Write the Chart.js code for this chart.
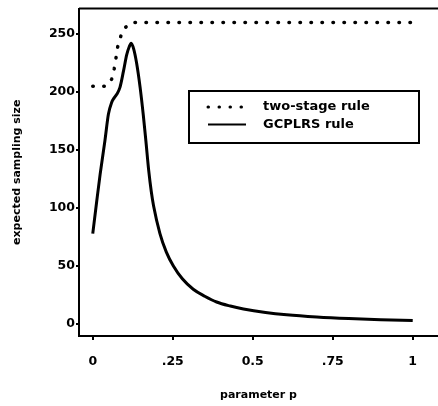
<!DOCTYPE html>
<html lang="en">
<head>
<meta charset="UTF-8">
<title>Expected sampling size</title>
<script src="https://cdn.jsdelivr.net/npm/chart.js"></script>
<style>
  body { margin: 0; background: #fff; }
  canvas { display: block; }
</style>
</head>
<body>
<canvas id="essChart" width="438" height="406"></canvas>
<script>
// two-stage rule (dotted)
const twoStageP = [0, 0.042, 0.059, 0.067, 0.073, 0.077, 0.085, 0.095, 0.12, 0.25, 0.5, 0.75, 1];
const twoStageN = [205, 205, 211, 220, 230, 238, 246, 254, 260, 260, 260, 260, 260];

// GCPLRS rule (solid)
const gcplrsP = [0, 0.012, 0.023, 0.038, 0.049, 0.059, 0.067, 0.075, 0.085, 0.096, 0.106, 0.114, 0.12,
                 0.128, 0.137, 0.148, 0.158, 0.166, 0.175, 0.183, 0.19, 0.21, 0.23, 0.252, 0.28,
                 0.314, 0.35, 0.387, 0.43, 0.471, 0.54, 0.606, 0.7, 0.8, 0.9, 1];
const gcplrsN = [78, 105, 129, 158, 181, 191, 195, 198, 204, 218, 232, 239, 242,
                 237, 225, 204, 180, 158, 132, 114, 102, 78, 62, 50, 39,
                 30, 24, 19, 15.5, 13, 10, 8, 6.1, 4.7, 3.7, 3];

const xTicks = [0, 0.25, 0.5, 0.75, 1];
const xTickLabels = ['0', '.25', '0.5', '.75', '1'];
const yTicks = [0, 50, 100, 150, 200, 250];

const fontFamily = '"DejaVu Sans", sans-serif';
const tickFont = { family: fontFamily, size: 12.5, weight: 'bold' };
const titleFont = { family: fontFamily, size: 11, weight: 'bold' };

function toPoints(xs, ys) {
    return xs.map((x, i) => ({ x: x, y: ys[i] }));
}

// top frame line + boxed legend inside the plot
const frameAndLegend = {
    id: 'frameAndLegend',
    afterDraw(chart) {
        const { ctx, chartArea } = chart;
        ctx.save();
        ctx.strokeStyle = '#000';
        ctx.lineWidth = 2;
        ctx.beginPath();
        ctx.moveTo(chartArea.left, chartArea.top);
        ctx.lineTo(chartArea.right, chartArea.top);
        ctx.stroke();

        const bx = 189, by = 91, bw = 230, bh = 52;
        ctx.fillStyle = '#fff';
        ctx.fillRect(bx, by, bw, bh);
        ctx.strokeRect(bx, by, bw, bh);

        chart.data.datasets.forEach((ds, i) => {
            const y = 107 + i * 17.5;
            ctx.beginPath();
            ctx.setLineDash(ds.borderDash || []);
            ctx.lineCap = ds.borderCapStyle || 'butt';
            ctx.lineWidth = i === 0 ? 3 : 2;
            ctx.moveTo(208, y);
            ctx.lineTo(246, y);
            ctx.stroke();
            ctx.setLineDash([]);
            ctx.fillStyle = '#000';
            ctx.font = 'bold 13px ' + fontFamily;
            ctx.textBaseline = 'middle';
            ctx.fillText(ds.label, 263, y);
        });
        ctx.restore();
    }
};

const ctx = document.getElementById('essChart').getContext('2d');
new Chart(ctx, {
    type: 'line',
    data: {
        datasets: [
            {
                label: 'two-stage rule',
                data: toPoints(twoStageP, twoStageN),
                borderColor: '#000',
                borderWidth: 3.5,
                borderDash: [0.5, 10.5],
                borderCapStyle: 'round',
                pointRadius: 0,
                tension: 0
            },
            {
                label: 'GCPLRS rule',
                data: toPoints(gcplrsP, gcplrsN),
                borderColor: '#000',
                borderWidth: 3,
                pointRadius: 0,
                cubicInterpolationMode: 'monotone'
            }
        ]
    },
    options: {
        responsive: false,
        animation: false,
        layout: { padding: { top: 7, right: 0, left: 0, bottom: 0 } },
        plugins: {
            legend: { display: false },
            tooltip: { enabled: false }
        },
        scales: {
            x: {
                type: 'linear',
                min: -0.043,
                max: 1.079,
                afterBuildTicks: s => { s.ticks = xTicks.map(v => ({ value: v })); },
                afterFit: s => { s.height = 70; },
                ticks: {
                    callback: (v, i) => xTickLabels[i],
                    font: tickFont,
                    color: '#000',
                    padding: 14,
                    maxRotation: 0
                },
                grid: { drawOnChartArea: false, color: '#000', lineWidth: 2, tickLength: 4 },
                border: { color: '#000', width: 2 },
                title: {
                    display: true,
                    text: 'parameter p',
                    font: titleFont,
                    color: '#000',
                    padding: { top: 0, bottom: 4 }
                }
            },
            y: {
                min: -10.3,
                max: 272,
                afterBuildTicks: s => { s.ticks = yTicks.map(v => ({ value: v })); },
                afterFit: s => { s.width = 79; },
                ticks: {
                    font: tickFont,
                    color: '#000',
                    padding: 1
                },
                grid: { drawOnChartArea: false, color: '#000', lineWidth: 2, tickLength: 3 },
                border: { color: '#000', width: 2 },
                title: {
                    display: true,
                    text: 'expected sampling size',
                    font: titleFont,
                    color: '#000',
                    padding: { top: 10.6, bottom: 0 }
                }
            }
        }
    },
    plugins: [frameAndLegend]
});
</script>
</body>
</html>
